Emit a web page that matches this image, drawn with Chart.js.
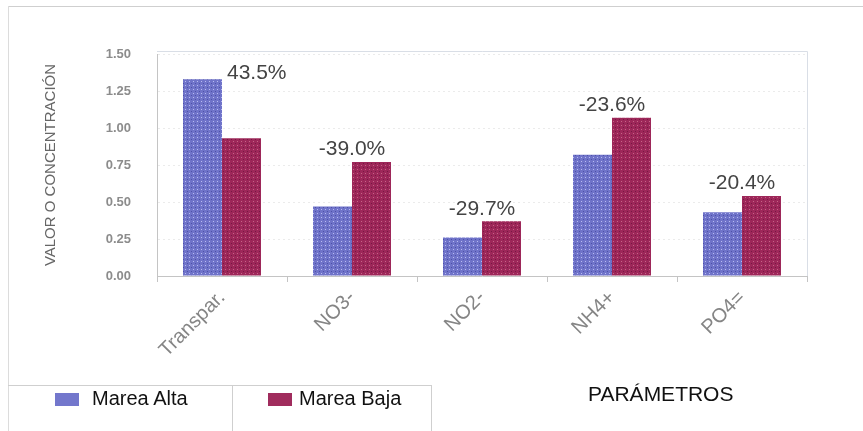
<!DOCTYPE html>
<html>
<head>
<meta charset="utf-8">
<script src="https://cdn.jsdelivr.net/npm/chart.js@4.4.1/dist/chart.umd.min.js"></script>
<style>
  html, body { margin: 0; padding: 0; background: #fff; }
  #wrap { position: relative; width: 863px; height: 431px; overflow: hidden; font-family: Arial, "Liberation Sans", sans-serif; }
  #chart { position: absolute; left: 0; top: 0; }
  .frameTop { position: absolute; left: 8px; top: 6px; width: 855px; height: 0; border-top: 1px solid #cfcfcf; }
  .frameLeft { position: absolute; left: 8px; top: 6px; width: 0; height: 425px; border-left: 1px solid #dcdcdc; }
  .legBox { position: absolute; top: 385px; height: 46px; border-top: 1px solid #cfcfcf; border-right: 1px solid #cfcfcf; box-sizing: border-box; }
  .sw { position: absolute; top: 7px; width: 24px; height: 13px; }
  .legTxt { position: absolute; top: 1px; font-size: 20px; color: #111; white-space: nowrap; }
  #xTitle { position: absolute; left: 588px; top: 382px; font-size: 21px; color: #111; }
</style>
</head>
<body>
<div id="wrap">
  <canvas id="chart" width="863" height="431"></canvas>
  <div class="frameTop"></div>
  <div class="frameLeft"></div>
  <div class="legBox" style="left:8px;width:225px;">
    <div class="sw" id="swAlta" style="left:47px;"></div>
    <div class="legTxt" style="left:84px;">Marea Alta</div>
  </div>
  <div class="legBox" style="left:232px;width:200px;">
    <div class="sw" id="swBaja" style="left:36px;"></div>
    <div class="legTxt" style="left:67px;">Marea Baja</div>
  </div>
  <div id="xTitle">PARÁMETROS</div>
</div>
<script>
// valores
const categories = ["Transpar.", "NO3-", "NO2-", "NH4+", "PO4="];
const mareaAlta = [1.33, 0.47, 0.26, 0.82, 0.43];
const mareaBaja = [0.93, 0.77, 0.37, 1.07, 0.54];
const diffLabels = ["43.5%", "-39.0%", "-29.7%", "-23.6%", "-20.4%"];
const yTicks = [0, 0.25, 0.5, 0.75, 1.0, 1.25, 1.5];

// textura punteada tipo escaneo
function makePattern(base, light, dark) {
  const c = document.createElement("canvas");
  c.width = 4; c.height = 4;
  const g = c.getContext("2d");
  g.fillStyle = base; g.fillRect(0, 0, 4, 4);
  g.fillStyle = light; g.fillRect(1, 1, 1, 1);
  g.fillStyle = dark; g.fillRect(3, 3, 1, 1);
  return g.createPattern(c, "repeat");
}

const ctx = document.getElementById("chart").getContext("2d");
const blueFill = makePattern("#6f73c9", "#b8bbf1", "#4c50a8");
const redFill = makePattern("#9d2759", "#c66487", "#761843");
document.getElementById("swAlta").style.background = "#7377cc";
document.getElementById("swBaja").style.background = "#a02c5d";

const plotFrame = {
  id: "plotFrame",
  beforeDatasetsDraw(chart) {
    const a = chart.chartArea, c = chart.ctx;
    c.save();
    c.strokeStyle = "#d9dee6";
    c.lineWidth = 1;
    c.beginPath();
    c.moveTo(a.left, a.top - 2.5);
    c.lineTo(a.right + 0.5, a.top - 2.5);
    c.lineTo(a.right + 0.5, a.bottom);
    c.stroke();
    c.restore();
  }
};

const diffText = {
  id: "diffText",
  afterDatasetsDraw(chart) {
    const c = chart.ctx;
    const m0 = chart.getDatasetMeta(0).data;
    const m1 = chart.getDatasetMeta(1).data;
    const xs = chart.scales.x;
    c.save();
    c.font = "21px Arial, 'Liberation Sans', sans-serif";
    c.fillStyle = "#444";
    c.textBaseline = "bottom";
    diffLabels.forEach((t, i) => {
      if (mareaAlta[i] > mareaBaja[i]) {
        c.textAlign = "left";
        c.fillText(t, m0[i].x + m0[i].width / 2 + 5, m0[i].y + 5);
      } else {
        c.textAlign = "center";
        c.fillText(t, xs.getPixelForValue(i), m1[i].y - 2);
      }
    });
    c.restore();
  }
};

new Chart(ctx, {
  type: "bar",
  data: {
    labels: categories,
    datasets: [
      { label: "Marea Alta", data: mareaAlta, backgroundColor: blueFill, borderWidth: 0 },
      { label: "Marea Baja", data: mareaBaja, backgroundColor: redFill, borderWidth: 0 }
    ]
  },
  options: {
    responsive: false,
    animation: false,
    layout: { padding: { left: 40, top: 54, right: 56, bottom: 0 } },
    plugins: {
      legend: { display: false },
      tooltip: { enabled: false }
    },
    datasets: {
      bar: { categoryPercentage: 0.6, barPercentage: 1.0 }
    },
    scales: {
      x: {
        afterFit: s => { s.height = 155; },
        grid: { offset: true, drawOnChartArea: false, drawTicks: true, tickLength: 6, color: "#c4c4c4" },
        border: { color: "#c4c4c4" },
        ticks: {
          maxRotation: 45, minRotation: 45, padding: 4,
          color: "#858585",
          font: { family: "Arial, 'Liberation Sans', sans-serif", size: 20 }
        }
      },
      y: {
        min: 0, max: 1.5,
        afterFit: s => { s.width = 117; },
        afterBuildTicks: s => { s.ticks = yTicks.map(v => ({ value: v })); },
        grid: { drawTicks: false, color: "rgba(0,0,0,0.08)" },
        border: { color: "#c4c4c4", dash: [2, 3] },
        ticks: {
          padding: 26,
          color: "#8c8c8c",
          font: { family: "Arial, 'Liberation Sans', sans-serif", size: 13, weight: "bold" },
          callback: v => v.toFixed(2)
        },
        title: {
          display: true,
          text: "VALOR O CONCENTRACIÓN",
          color: "#666",
          padding: 2,
          font: { family: "Arial, 'Liberation Sans', sans-serif", size: 15 }
        }
      }
    }
  },
  plugins: [plotFrame, diffText]
});
</script>
</body>
</html>
